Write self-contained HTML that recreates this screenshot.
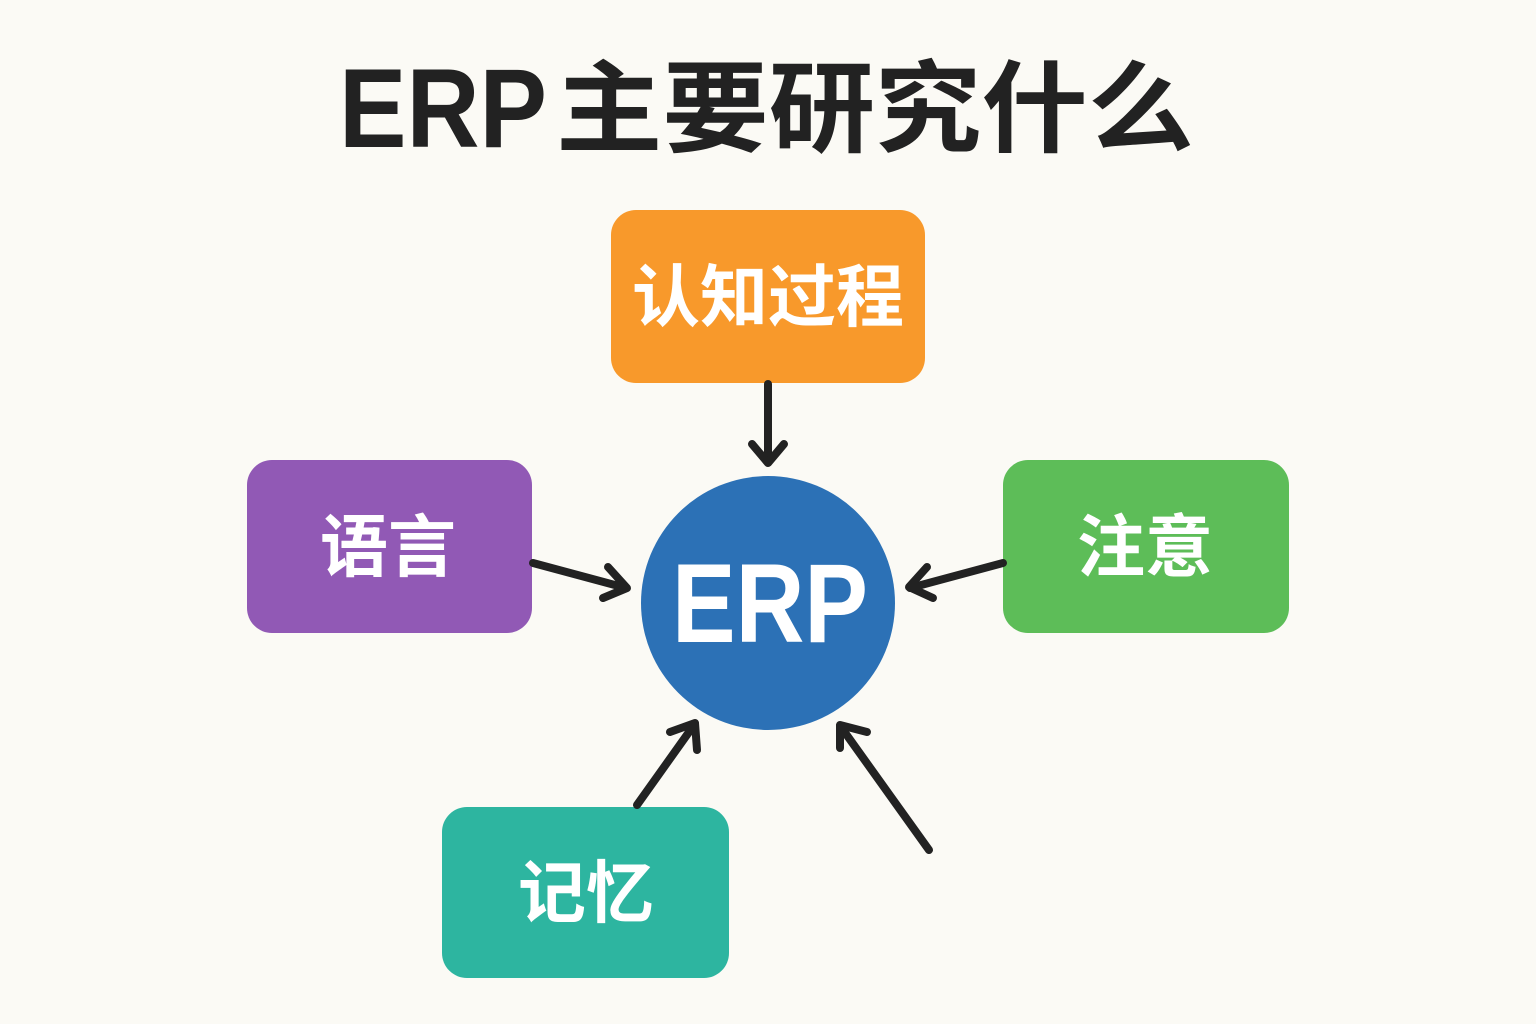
<!DOCTYPE html>
<html>
<head>
<meta charset="utf-8">
<style>
  html,body{margin:0;padding:0;background:#FBFAF5;}
  svg{display:block;}
</style>
</head>
<body>
<svg width="1536" height="1024" viewBox="0 0 1536 1024" xmlns="http://www.w3.org/2000/svg">
  <rect x="0" y="0" width="1536" height="1024" fill="#FBFAF5"/>

  <!-- Title -->
  <text x="339" y="147" font-family="'Liberation Sans', sans-serif" font-weight="700" font-size="112" fill="#222222" textLength="208" lengthAdjust="spacingAndGlyphs">ERP</text>
  <text x="556" y="144" font-family="'Liberation Sans','Noto Sans CJK SC',sans-serif" font-weight="700" font-size="100" fill="#222222" textLength="638" lengthAdjust="spacingAndGlyphs">主要研究什么</text>

  <!-- Boxes -->
  <rect x="611" y="210" width="314" height="173" rx="25" ry="25" fill="#F8992B"/>
  <rect x="247" y="460" width="285" height="173" rx="25" ry="25" fill="#9159B5"/>
  <rect x="1003" y="460" width="286" height="173" rx="25" ry="25" fill="#5DBD58"/>
  <rect x="442" y="807" width="287" height="171" rx="25" ry="25" fill="#2DB5A0"/>

  <!-- Box labels -->
  <g font-family="'Liberation Sans','Noto Sans CJK SC',sans-serif" font-weight="700" font-size="68" fill="#FFFFFF" text-anchor="middle">
    <text x="768" y="321">认知过程</text>
    <text x="388" y="571">语言</text>
    <text x="1145" y="571">注意</text>
    <text x="586" y="917">记忆</text>
  </g>

  <!-- Center circle -->
  <circle cx="768" cy="603" r="127" fill="#2C71B6"/>
  <text x="672" y="642" font-family="'Liberation Sans', sans-serif" font-weight="700" font-size="112" fill="#FFFFFF" textLength="196" lengthAdjust="spacingAndGlyphs">ERP</text>

  <!-- Arrows -->
  <g stroke="#222222" stroke-width="8" stroke-linecap="round" stroke-linejoin="round" fill="none">
    <!-- top -->
    <line x1="768" y1="384" x2="768" y2="462"/>
    <polyline points="752,444 768,463 784,444"/>
    <!-- left -->
    <line x1="533" y1="563" x2="626" y2="588"/>
    <polyline points="608,567 627,588 603,598"/>
    <!-- right -->
    <line x1="1003" y1="563" x2="910" y2="588"/>
    <polyline points="927,567 909,587 933,598"/>
    <!-- bottom-left -->
    <line x1="637" y1="805" x2="694" y2="725"/>
    <polyline points="670,732 695,723 697,750"/>
    <!-- bottom-right -->
    <line x1="929" y1="850" x2="841" y2="727"/>
    <polyline points="867,732 840,725 840,748"/>
  </g>
</svg>
</body>
</html>
